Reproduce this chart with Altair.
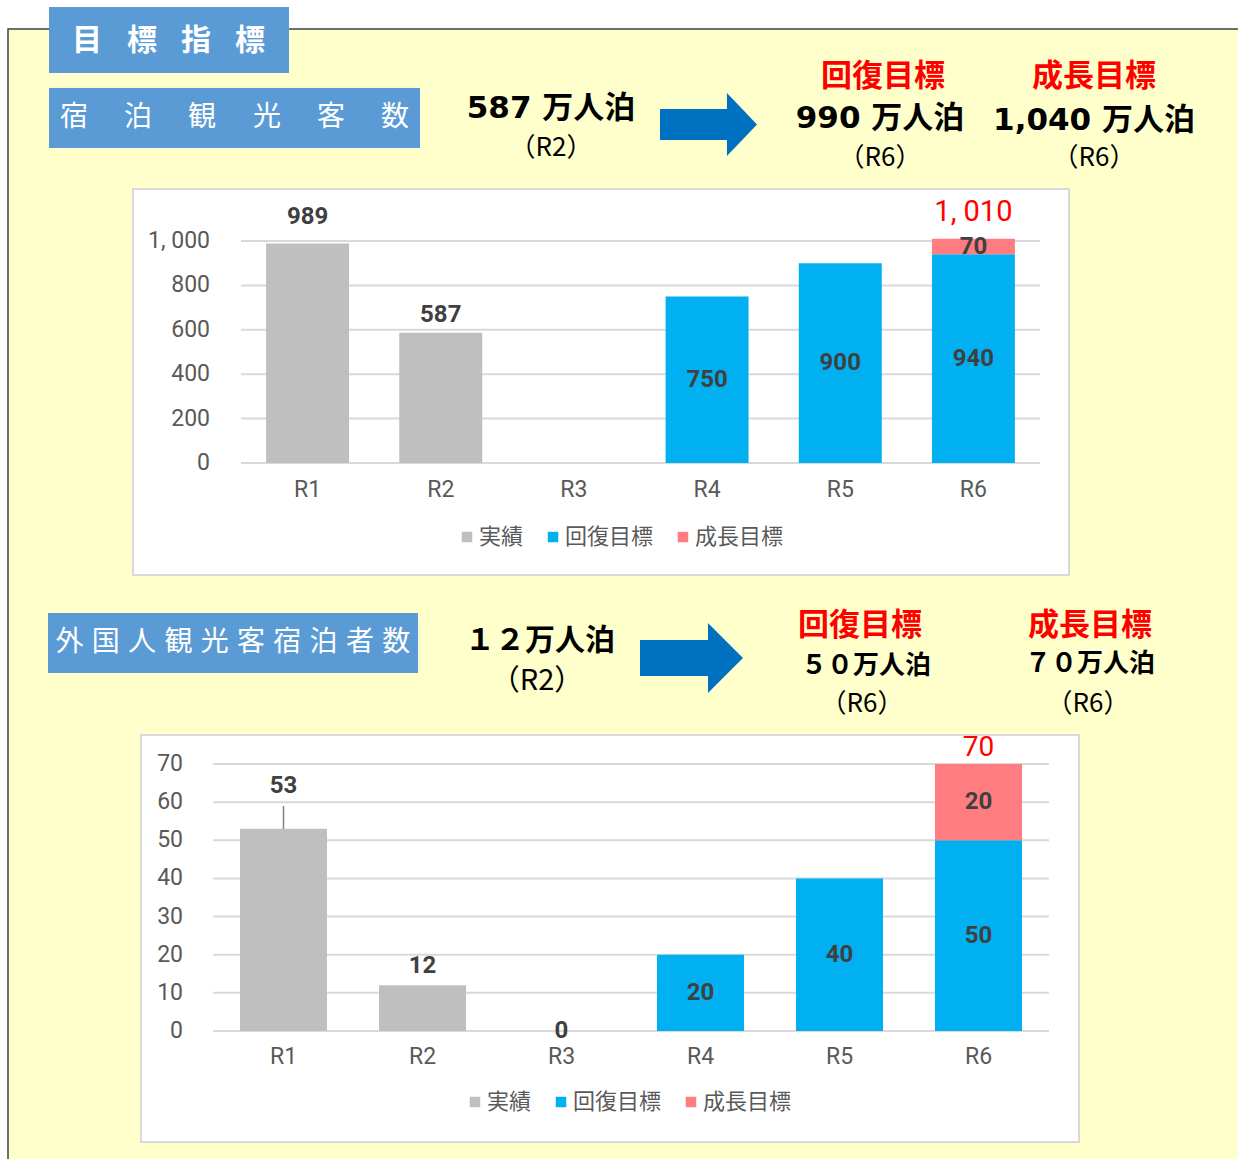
import altair as alt
import pandas as pd

# ---------------- data ----------------
years = ["R1", "R2", "R3", "R4", "R5", "R6"]
series_names = ["実績", "回復目標", "成長目標"]
series_colors = ["#BFBFBF", "#00B0F0", "#FF7C80"]

# 宿泊観光客数 (万人泊)
stay_actual = [989, 587, None, None, None, None]
stay_recovery = [None, None, None, 750, 900, 940]
stay_growth = [None, None, None, None, None, 70]
stay_ticks = [0, 200, 400, 600, 800, 1000]
stay_tick_labels = ["0", "200", "400", "600", "800", "1, 000"]
stay_total = 1010
stay_total_label = "1, 010"

# 外国人観光客宿泊者数 (万人泊)
intl_actual = [53, 12, 0, None, None, None]
intl_recovery = [None, None, None, 20, 40, 50]
intl_growth = [None, None, None, None, None, 20]
intl_ticks = [0, 10, 20, 30, 40, 50, 60, 70]
intl_tick_labels = ["0", "10", "20", "30", "40", "50", "60", "70"]
intl_total = 70
intl_total_label = "70"

# header texts
title_main = "目標指標"
title_stay = "宿泊観光客数"
title_intl = "外国人観光客宿泊者数"
stay_now, stay_rec, stay_gro = "587 万人泊", "990 万人泊", "1,040 万人泊"
intl_now, intl_rec, intl_gro = "１２万人泊", "５０万人泊", "７０万人泊"

# ---------------- styles ----------------
JP = "Noto Sans CJK JP"
HEADNUM = "DejaVu Sans, Noto Sans CJK JP"
NUM = "Roboto, sans-serif"
BLUEBOX = "#5B9BD5"
RED = "#FF0000"
ONE = pd.DataFrame({"a": [1]})


def rect(x, x2, y, y2, fill, stroke=None, sw=0):
    kw = dict(fill=fill)
    if stroke:
        kw.update(stroke=stroke, strokeWidth=sw)
    else:
        kw.update(strokeWidth=0)
    return alt.Chart(ONE).mark_rect(**kw).encode(
        x=alt.value(x), x2=alt.value(x2), y=alt.value(y), y2=alt.value(y2))


def text(s, x, y, size, color="#000000", bold=False, font=JP, align="center"):
    return alt.Chart(pd.DataFrame({"t": [s]})).mark_text(
        align=align, baseline="middle", font=font, fontSize=size,
        fontWeight="bold" if bold else "normal", color=color,
    ).encode(x=alt.value(x), y=alt.value(y), text="t:N")


def arrow(cx, cy, w, path):
    return alt.Chart(ONE).mark_point(
        shape=path, filled=True, color="#0070C0", opacity=1, strokeWidth=0, size=w * w
    ).encode(x=alt.value(cx), y=alt.value(cy))


def long_frame(actual, recovery, growth):
    rows = []
    for i, yr in enumerate(years):
        base = 0
        for o, (name, vals) in enumerate(zip(series_names, [actual, recovery, growth])):
            v = vals[i]
            if v is None:
                continue
            rows.append(dict(yr=yr, s=name, o=o, v=v, mid=base + v / 2, top=base + v, t=str(v)))
            base += v
    return pd.DataFrame(rows)


def panel(df, ticks, tick_labels, total, total_label, xr, pad, yrange, ydom,
          gx, tick_x, xlab_y, legxy, actual_dy, total_dy, total_size, special=None):
    xs = alt.Scale(domain=years, range=xr, paddingInner=pad, paddingOuter=pad / 2)
    ys = alt.Scale(domain=ydom, range=yrange, nice=False, zero=False)
    X = alt.X("yr:N", scale=xs, axis=None)
    tick_df = pd.DataFrame({"tv": ticks, "tl": tick_labels})
    grid = alt.Chart(tick_df).mark_rule(color="#D9D9D9", strokeWidth=2).encode(
        y=alt.Y("tv:Q", scale=ys, axis=None), x=alt.value(gx[0]), x2=alt.value(gx[1]))
    ticklab = alt.Chart(tick_df).mark_text(
        align="right", baseline="middle", font=NUM, fontSize=23, color="#595959"
    ).encode(y=alt.Y("tv:Q", scale=ys, axis=None), x=alt.value(tick_x), text="tl:N")
    bars = alt.Chart(df).mark_bar().encode(
        x=X,
        y=alt.Y("v:Q", scale=ys, axis=None, stack="zero"),
        color=alt.Color("s:N", scale=alt.Scale(domain=series_names, range=series_colors),
                        legend=alt.Legend(orient="none", legendX=legxy[0], legendY=legxy[1],
                                          direction="horizontal", title=None, symbolType="square",
                                          symbolSize=110, symbolStrokeWidth=0, labelFontSize=22,
                                          labelFont=JP, labelColor="#595959", columnPadding=18,
                                          labelOffset=1, padding=0)),
        order=alt.Order("o:Q"),
    )
    xlab = alt.Chart(pd.DataFrame({"yr": years})).mark_text(
        font=NUM, fontSize=23, color="#595959", baseline="middle"
    ).encode(x=X, y=alt.value(xlab_y), text="yr:N")
    lab_style = dict(font=NUM, fontSize=24, fontWeight="bold", color="#404040", baseline="middle")
    layers = [grid, ticklab, bars, xlab]
    act = df[df.s == series_names[0]]
    for yr, dy in actual_dy.items():
        layers.append(alt.Chart(act[act.yr == yr]).mark_text(dy=dy, **lab_style).encode(
            x=X, y=alt.Y("top:Q", scale=ys, axis=None), text="t:N"))
    inner = df[df.s != series_names[0]]
    layers.append(alt.Chart(inner).mark_text(**lab_style).encode(
        x=X, y=alt.Y("mid:Q", scale=ys, axis=None), text="t:N"))
    tot = pd.DataFrame({"yr": [years[-1]], "top": [total], "t": [total_label]})
    layers.append(alt.Chart(tot).mark_text(
        dy=total_dy, font=NUM, fontSize=total_size, color=RED, baseline="middle"
    ).encode(x=X, y=alt.Y("top:Q", scale=ys, axis=None), text="t:N"))
    if special is not None:
        layers.append(alt.Chart(act[act.yr == special[0]]).mark_rule(
            color="#808080", strokeWidth=1.5).encode(
            x=X, y=alt.Y("top:Q", scale=ys, axis=None), y2=alt.value(special[1])))
    return alt.layer(*layers)


stay_df = long_frame(stay_actual, stay_recovery, stay_growth)
intl_df = long_frame(intl_actual, intl_recovery, intl_growth)

p1 = panel(stay_df, stay_ticks, stay_tick_labels, stay_total, stay_total_label,
           xr=[241, 1040], pad=0.377, yrange=[463, 241], ydom=[0, 1000],
           gx=[241, 1040], tick_x=210, xlab_y=490, legxy=[456, 526],
           actual_dy={"R1": -26, "R2": -18}, total_dy=-27, total_size=29)
p2 = panel(intl_df, intl_ticks, intl_tick_labels, intl_total, intl_total_label,
           xr=[214, 1048], pad=0.374, yrange=[1031, 764], ydom=[0, 70],
           gx=[213, 1049], tick_x=183, xlab_y=1057, legxy=[464, 1091],
           actual_dy={"R1": -43, "R2": -19, "R3": 0}, total_dy=-16, total_size=28,
           special=("R1", 806))

decor = [
    rect(8, 1260, 29, 1190, "#FFFFCC", stroke="#404040", sw=1.5),
    rect(133, 1069, 189, 575, "#FFFFFF", stroke="#D9D9D9", sw=2),
    rect(141, 1079, 735, 1142, "#FFFFFF", stroke="#D9D9D9", sw=2),
    rect(49, 289, 7, 73, BLUEBOX),
    rect(49, 420, 88, 148, BLUEBOX),
    rect(48, 418, 613, 673, BLUEBOX),
]
for ch, x in zip(title_main, [87, 142, 196, 250]):
    decor.append(text(ch, x, 41, 30, color="#FFFFFF", bold=True))
for ch, x in zip(title_stay, [74, 138, 202, 267, 331, 395]):
    decor.append(text(ch, x, 118, 28, color="#FFFFFF"))
for i, ch in enumerate(title_intl):
    decor.append(text(ch, 69.5 + 36.3 * i, 643, 28, color="#FFFFFF"))

decor += [
    text(stay_now, 551, 109, 31, bold=True, font=HEADNUM),
    text("（R2）", 551, 148, 26),
    text("回復目標", 883, 77, 31, color=RED, bold=True),
    text(stay_rec, 880, 119, 31, bold=True, font=HEADNUM),
    text("（R6）", 880, 158, 26),
    text("成長目標", 1094, 77, 31, color=RED, bold=True),
    text(stay_gro, 1094, 121, 31, bold=True, font=HEADNUM),
    text("（R6）", 1094, 158, 26),
    text(intl_now, 540, 641, 30, bold=True),
    text("（R2）", 537, 681, 29),
    text("回復目標", 860, 626, 31, color=RED, bold=True),
    text(intl_rec, 866, 666, 26, bold=True),
    text("（R6）", 862, 704, 26),
    text("成長目標", 1090, 626, 31, color=RED, bold=True),
    text(intl_gro, 1090, 664, 26, bold=True),
    text("（R6）", 1088, 704, 26),
    arrow(708.5, 124.5, 97, "M-1,-0.32L0.38,-0.32L0.38,-0.65L1,0L0.38,0.65L0.38,0.32L-1,0.32Z"),
    arrow(691.5, 658, 103, "M-1,-0.35L0.32,-0.35L0.32,-0.68L1,0L0.32,0.68L0.32,0.35L-1,0.35Z"),
]

chart = alt.layer(*decor, p1, p2).resolve_scale(
    x="independent", y="independent", color="independent"
).properties(
    width=1238, height=1159, autosize=alt.AutoSizeParams(type="none"), padding=0,
    background="#FFFFFF",
).configure_view(stroke=None)

chart.save("out.html", embed_options={"renderer": "svg", "actions": False})
